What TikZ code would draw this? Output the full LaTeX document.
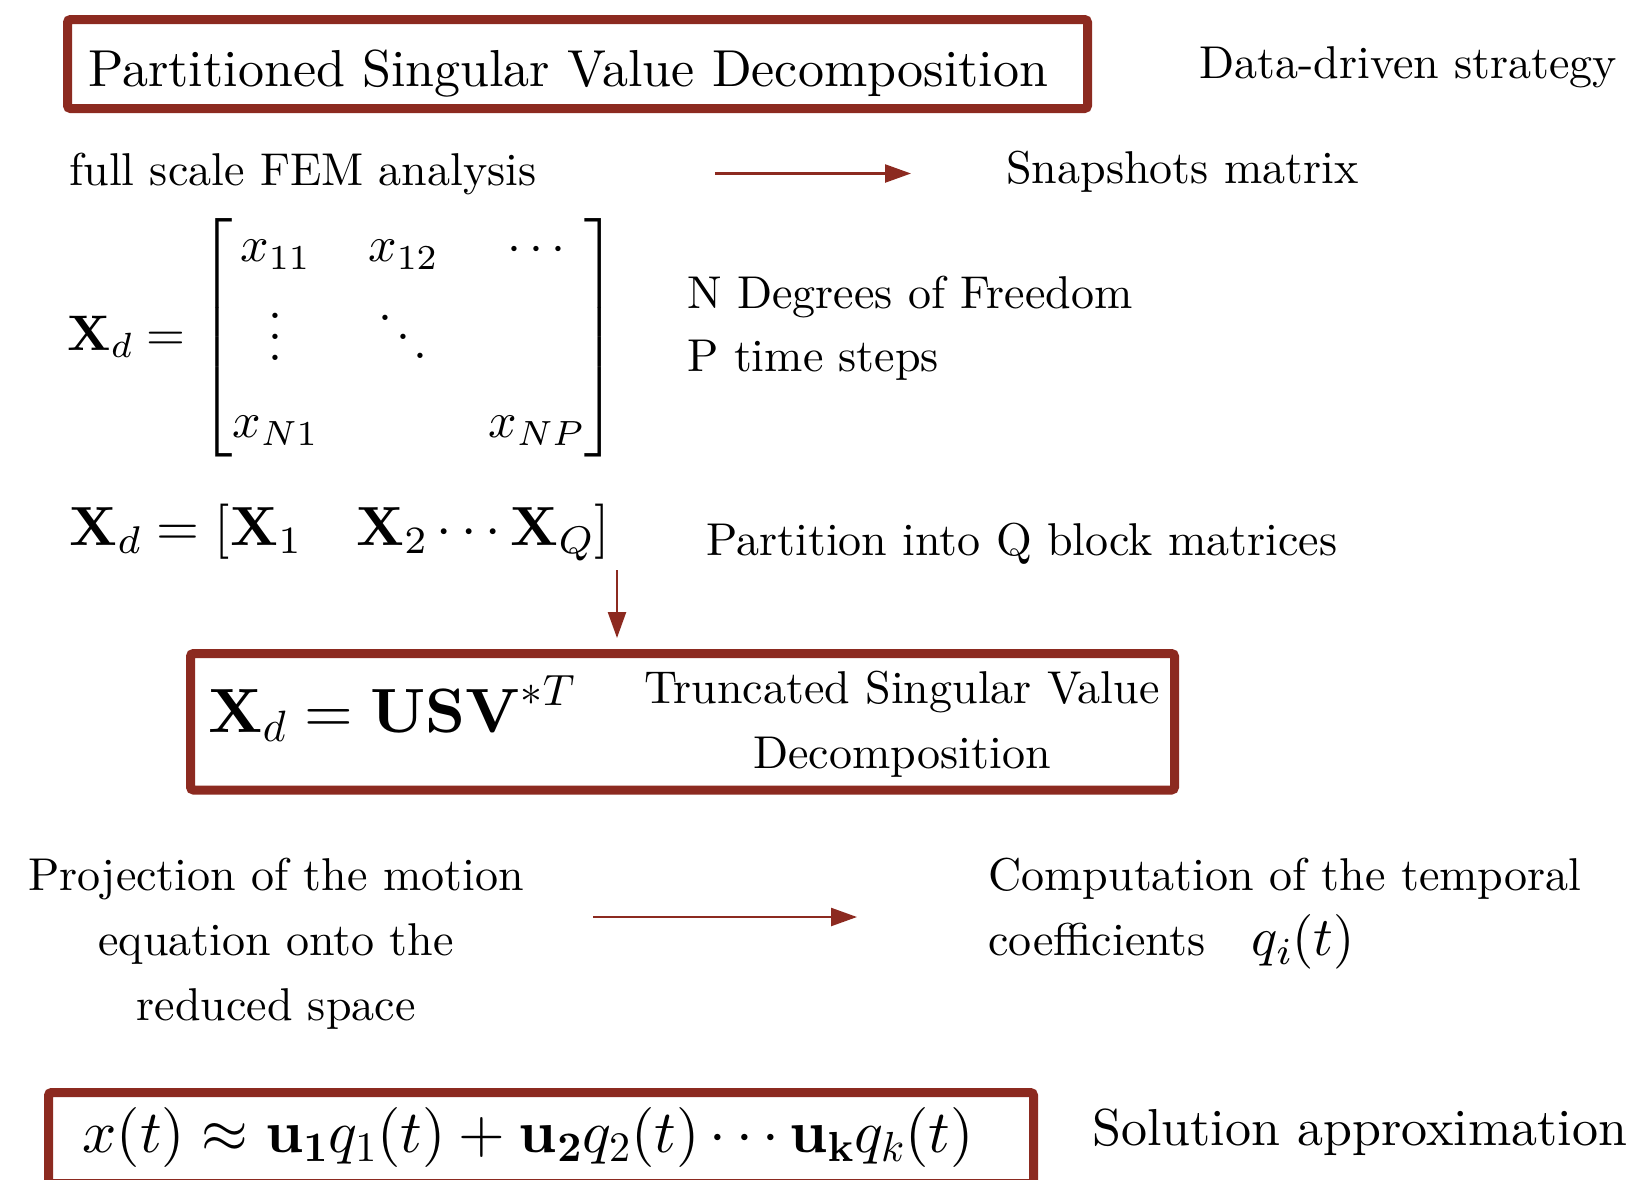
\documentclass[tikz,border=0pt]{standalone}
\usepackage{amsmath}
\usepackage[no-math]{fontspec}
\setmainfont{lmroman10}[Extension=.otf, UprightFont=*-regular, BoldFont=*-bold, ItalicFont=*-italic, BoldItalicFont=*-bolditalic]
\DeclareFontShape{OT1}{cmr}{m}{n}{<-14.5>cmr5 <14.5-20.5>cmr7 <20.5->cmr10}{}
\DeclareFontShape{OT1}{cmr}{bx}{n}{<-14.5>cmbx5 <14.5-20.5>cmbx7 <20.5->cmbx10}{}
\DeclareFontShape{OML}{cmm}{m}{it}{<-14.5>cmmi5 <14.5-20.5>cmmi7 <20.5->cmmi10}{}
\DeclareFontShape{OMS}{cmsy}{m}{n}{<-14.5>cmsy5 <14.5-20.5>cmsy7 <20.5->cmsy10}{}
\newcommand{\vdotsx}{\vcenter{\baselineskip=.42em\lineskiplimit=0pt\lineskip=0pt\hbox{.}\hbox{.}\hbox{.}}}
\newcommand{\ddotsx}{\vcenter{\hbox{\raise.75em\hbox{.}\kern.08em\raise.375em\hbox{.}\kern.08em\hbox{.}}}}
\usetikzlibrary{arrows.meta}
\definecolor{boxred}{RGB}{140,42,32}
\begin{document}
\begin{tikzpicture}[x=0.5pt,y=-0.5pt,
  txt/.style={inner sep=0pt, font=\fontsize{23}{32.5}\selectfont},
  bigtxt/.style={inner sep=0pt, font=\fontsize{26}{32.5}\selectfont},
  mth/.style={inner sep=0pt, font=\fontsize{27.6}{30}\selectfont},
  redbox/.style={draw=boxred, line width=4.5pt, rounded corners=1.5pt, inner sep=0pt},
  arr/.style={draw=boxred, line width=1.2pt, -{Triangle[length=13pt,width=9pt]}}]
\clip (0,0) rectangle (1639,1179);
\fill[white] (0,0) rectangle (1639,1179);

% boxes
\node[redbox, minimum width=510pt, minimum height=44.5pt] (box1) at (577.5,64) {};
\node[redbox, minimum width=492pt, minimum height=68.25pt] (box2) at (682.5,721.75) {};
\node[redbox, minimum width=492.5pt, minimum height=45.5pt] (box3) at (541,1138) {};

% row 1
\node[bigtxt, anchor=base west] (title) at (88,86) {Partitioned Singular Value Decomposition};
\node[txt, anchor=base west] (dds) at (1199,78) {Data-driven strategy};

% row 2
\node[txt, anchor=base west] (fem) at (69,185) {full scale FEM analysis};
\node[txt, anchor=base west] (snap) at (1006,183) {Snapshots matrix};
\draw[arr, shorten <=89pt, shorten >=47.5pt] (fem.east) -- (fem.east -| snap.west);

% matrix
\node[mth, font=\fontsize{25}{30}\selectfont, anchor=base west] (mat) at (67,350) {$\mathbf{X}_d =
  \setlength\arraycolsep{12.7pt}%
  \begin{bmatrix} x_{11} & x_{12} & \cdots\\[14pt]
  \vdotsx & \ddotsx & \\[14pt]
  x_{N1} & & x_{NP}\end{bmatrix}$};
\node[txt, anchor=base west] (ndof) at (687,308) {N Degrees of Freedom};
\node[txt, anchor=base west] (pts) at (687,371) {P time steps};

% partition
\node[mth, anchor=base west] (eq2) at (69,545) {$\mathbf{X}_d = [\mathbf{X}_1 \quad \mathbf{X}_2 \cdots \mathbf{X}_Q]$};
\node[txt, anchor=base west] (part) at (706,555) {Partition into Q block matrices};
\coordinate (a3) at (617,570);
\draw[arr, shorten >=5.5pt] (a3) -- (a3 |- box2.north);

% truncated SVD
\node[mth, font=\fontsize{31.3}{32}\selectfont, anchor=base west] (usv) at (208,732) {$\mathbf{X}_d = \mathbf{USV}^{*T}$};
\node[txt, align=center, anchor=north] (tsvd) at (902,671) {Truncated Singular Value\\Decomposition};

% projection
\node[txt, align=center, anchor=north] (proj) at (276,858) {Projection of the motion\\equation onto the\\reduced space};
\node[txt, align=left, anchor=north west] (comp) at (988,858) {Computation of the temporal\\coefficients\quad{\fontsize{27.3}{30}\selectfont$q_i(t)$}};
\coordinate (a2) at (593,917);
\draw[arr, shorten >=65.5pt] (a2) -- (a2 -| comp.west);

% solution
\node[mth, font=\fontsize{30}{30}\selectfont, anchor=base west] (sol) at (82,1152) {$x(t) \approx \mathbf{u_1} q_1(t) + \mathbf{u_2} q_2(t) \cdots \mathbf{u_k} q_k(t)$};
\node[bigtxt, anchor=base west] (solt) at (1092,1145) {Solution approximation};
\end{tikzpicture}
\end{document}
